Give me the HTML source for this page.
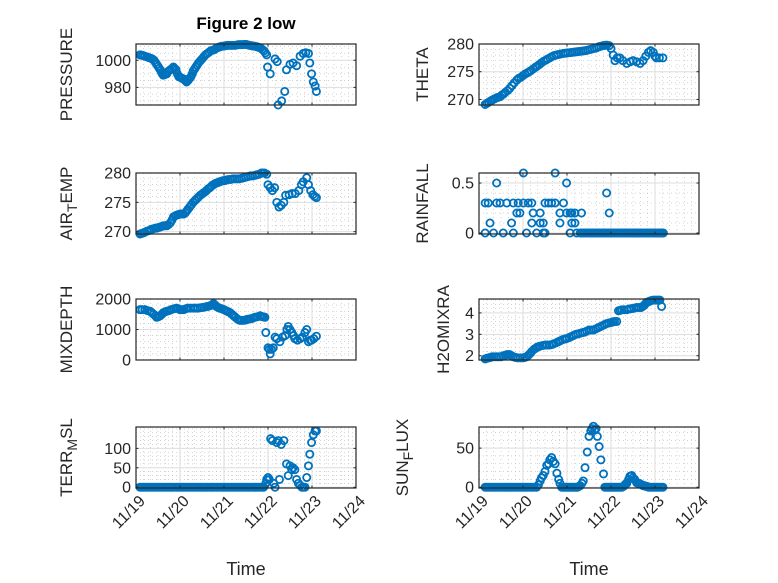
<!DOCTYPE html>
<html><head><meta charset="utf-8"><style>
html,body{margin:0;padding:0;background:#fff;}
svg{display:block;font-family:"Liberation Sans","DejaVu Sans",sans-serif;}
</style></head><body>
<svg id="fig" width="778" height="583" viewBox="0 0 778 583" xmlns="http://www.w3.org/2000/svg">
<rect width="778" height="583" fill="#fff"/>
<text x="246" y="29" text-anchor="middle" font-size="17" font-weight="bold" fill="#000">Figure 2 low</text>
</svg>
<script>
const xTickLabels = ["11/19","11/20","11/21","11/22","11/23","11/24"];
const xTickDays = [0,1,2,3,4,5];

const pressureT = [0.09,0.12,0.16,0.2,0.25,0.29,0.33,0.37,0.41,0.44,0.47,0.5,0.53,0.56,0.58,0.6,0.62,0.66,0.7,0.74,0.78,0.82,0.85,0.88,0.91,0.94,0.97,1.0,1.03,1.06,1.1,1.12,1.15,1.18,1.2,1.23,1.25,1.28,1.3,1.33,1.36,1.39,1.42,1.46,1.5,1.54,1.58,1.62,1.66,1.7,1.75,1.79,1.83,1.87,1.91,1.95,2.0,2.04,2.08,2.12,2.16,2.2,2.25,2.29,2.33,2.37,2.41,2.45,2.5,2.54,2.58,2.62,2.66,2.7,2.75,2.79,2.83,2.87,2.91,2.94,2.97,2.99,3.05,3.16,3.21,3.23,3.31,3.38,3.42,3.5,3.57,3.65,3.73,3.8,3.86,3.92,3.95,3.99,4.03,4.07,4.1];
const pressureV = [1004,1003.8,1003.5,1003,1002.5,1002,1001.5,1001,1000,998.5,997,995.5,994,992.5,991,990,989,989.5,990,992,993,994,995,994,993,990,988,987.5,987,986.5,986,985,984,985,986,987,988,990,992,993.5,995,996.5,998,999.5,1001,1002.5,1004,1005,1006,1007,1007.5,1008,1009,1009.5,1010,1010.3,1010.5,1010.8,1011,1011,1011,1011,1011,1011.3,1011.5,1011.5,1011.5,1011.6,1011.7,1011.4,1011,1010.8,1010.5,1010.3,1010,1009.5,1009,1008,1007,1005.5,1004,995,990,1001,999,967,970,977,993,997,998,996,1003,1005,1005.5,1005,998,990,984,981,977];

const airT = [0.09,0.13,0.17,0.2,0.25,0.3,0.35,0.4,0.44,0.47,0.51,0.55,0.59,0.62,0.66,0.7,0.74,0.78,0.82,0.85,0.89,0.92,0.96,1.0,1.04,1.08,1.12,1.15,1.18,1.22,1.26,1.3,1.34,1.38,1.42,1.46,1.5,1.53,1.57,1.6,1.64,1.68,1.72,1.76,1.8,1.83,1.87,1.9,1.94,1.98,2.02,2.05,2.1,2.15,2.2,2.25,2.3,2.35,2.4,2.45,2.5,2.55,2.6,2.65,2.7,2.75,2.8,2.85,2.88,2.92,2.97,3.0,3.05,3.1,3.15,3.2,3.25,3.3,3.36,3.4,3.48,3.55,3.62,3.7,3.76,3.8,3.88,3.92,3.97,4.02,4.06,4.1];
const airV = [269.6,269.7,269.8,269.9,270.1,270.2,270.4,270.5,270.6,270.6,270.7,270.8,270.9,271,271,271,271.2,271.5,272,272.5,272.7,272.8,272.9,273,273,273,273.2,273.5,273.8,274.2,274.6,275,275.3,275.6,275.9,276.2,276.4,276.6,276.8,277,277.3,277.5,277.8,278,278.2,278.3,278.4,278.5,278.6,278.7,278.7,278.8,278.9,278.9,279,279,279,279,279.1,279.2,279.3,279.4,279.5,279.5,279.6,279.7,279.8,280,280,280,279.8,278,277.5,277,277.5,275,274.2,274.5,275,276.2,276.3,276.5,276.5,277,278,278.5,279.2,278,277,276.3,276,275.8];

const mixT = [0.09,0.14,0.2,0.26,0.32,0.36,0.4,0.44,0.47,0.51,0.55,0.59,0.62,0.66,0.7,0.75,0.8,0.86,0.92,0.96,1.0,1.04,1.08,1.13,1.18,1.24,1.3,1.35,1.4,1.45,1.5,1.55,1.6,1.64,1.68,1.72,1.76,1.8,1.83,1.87,1.9,1.95,2.0,2.04,2.07,2.1,2.14,2.18,2.22,2.26,2.3,2.33,2.36,2.4,2.45,2.49,2.52,2.56,2.6,2.65,2.7,2.76,2.82,2.85,2.88,2.91,2.93,2.95,3.0,3.03,3.05,3.08,3.12,3.16,3.2,3.27,3.33,3.39,3.43,3.46,3.5,3.54,3.58,3.61,3.67,3.73,3.78,3.84,3.88,3.92,3.96,3.99,4.04,4.1];
const mixV = [1650,1650,1650,1620,1600,1550,1500,1450,1400,1420,1450,1500,1550,1580,1600,1620,1650,1680,1700,1680,1650,1650,1650,1680,1700,1700,1700,1700,1700,1710,1720,1730,1750,1760,1780,1800,1850,1800,1750,1720,1700,1680,1650,1620,1600,1580,1550,1500,1450,1400,1350,1320,1300,1300,1300,1310,1330,1340,1350,1370,1400,1420,1450,1430,1420,1410,1400,900,400,350,200,350,400,750,700,600,750,800,1000,1100,1000,900,800,700,650,700,750,900,1000,600,650,650,700,780];

const terrT = [0.09,0.13,0.17,0.21,0.25,0.29,0.33,0.37,0.42,0.46,0.5,0.54,0.58,0.62,0.67,0.71,0.75,0.79,0.83,0.87,0.92,0.96,1.0,1.04,1.08,1.12,1.17,1.21,1.25,1.29,1.33,1.37,1.42,1.46,1.5,1.54,1.58,1.62,1.67,1.71,1.75,1.79,1.83,1.87,1.92,1.96,2.0,2.04,2.08,2.12,2.17,2.21,2.25,2.29,2.33,2.37,2.42,2.46,2.5,2.54,2.58,2.62,2.67,2.71,2.75,2.79,2.83,2.87,2.9,2.95,2.97,3.0,3.03,3.06,3.1,3.13,3.16,3.2,3.23,3.26,3.3,3.36,3.42,3.46,3.5,3.54,3.57,3.61,3.65,3.69,3.73,3.77,3.8,3.84,3.88,3.92,3.95,3.99,4.03,4.07,4.1];
const terrV = [0,0,0,0,0,0,0,0,0,0,0,0,0,0,0,0,0,0,0,0,0,0,0,0,0,0,0,0,0,0,0,0,0,0,0,0,0,0,0,0,0,0,0,0,0,0,0,0,0,0,0,0,0,0,0,0,0,0,0,0,0,0,0,0,0,0,0,0,0,10,20,25,20,125,120,10,0,115,120,20,110,120,60,30,55,45,50,45,20,10,5,0,0,0,25,55,85,115,135,145,145];

const thetaT = [0.14,0.18,0.22,0.26,0.3,0.35,0.4,0.44,0.48,0.52,0.56,0.6,0.65,0.7,0.75,0.8,0.86,0.9,0.95,1.0,1.05,1.1,1.14,1.18,1.23,1.28,1.32,1.37,1.42,1.47,1.52,1.56,1.61,1.65,1.7,1.75,1.8,1.86,1.92,1.97,2.02,2.07,2.12,2.17,2.22,2.27,2.32,2.37,2.42,2.47,2.52,2.57,2.62,2.67,2.72,2.77,2.82,2.86,2.9,2.96,3.0,3.05,3.09,3.14,3.2,3.27,3.36,3.44,3.5,3.58,3.66,3.73,3.79,3.85,3.9,3.96,4.0,4.03,4.1,4.18];
const thetaV = [269.1,269.3,269.5,269.7,269.9,270.1,270.3,270.4,270.5,270.8,271,271.3,271.6,272,272.5,273,273.5,273.8,274,274.3,274.6,274.8,275,275.2,275.5,275.8,276,276.3,276.6,276.9,277.1,277.3,277.5,277.7,277.9,278,278.1,278.2,278.3,278.35,278.4,278.45,278.5,278.55,278.6,278.65,278.7,278.75,278.8,278.9,279,279.1,279.2,279.3,279.5,279.6,279.7,279.75,279.8,279.7,279.2,278,277,277.5,277.5,277,276.5,276.8,277,276.8,276.5,277,277.8,278.5,278.8,278.5,277.8,277.5,277.5,277.5];

const rainT = [0.14,0.14,0.21,0.25,0.33,0.4,0.4,0.48,0.55,0.63,0.74,0.78,0.78,0.86,0.89,0.93,1.01,1.01,1.08,1.12,1.2,1.2,1.23,1.31,1.39,1.39,1.46,1.46,1.5,1.5,1.58,1.65,1.73,1.73,1.84,1.84,1.92,1.99,1.99,2.07,2.07,2.11,2.11,2.18,2.18,2.22,2.33,2.9,2.96,
 2.3,2.34,2.38,2.42,2.46,2.5,2.54,2.58,2.62,2.66,2.7,2.74,2.78,2.82,2.86,2.9,2.94,2.98,3.02,3.06,3.1,3.14,3.18,3.22,3.26,3.3,3.34,3.38,3.42,3.46,3.5,3.54,3.58,3.62,3.66,3.7,3.74,3.78,3.82,3.86,3.9,3.94,3.98,4.02,4.06,4.1,4.13,4.16,4.19];
const rainV = [0.3,0,0.3,0.1,0,0.5,0.3,0.3,0,0.3,0.1,0.3,0,0.2,0.3,0.2,0.6,0.3,0,0.3,0.3,0.1,0.2,0,0.2,0.1,0.1,0,0.3,0,0.3,0.3,0.6,0.3,0.2,0.1,0.3,0.5,0.2,0.2,0,0.1,0.2,0.2,0.1,0,0.2,0.4,0.2,
 0,0,0,0,0,0,0,0,0,0,0,0,0,0,0,0,0,0,0,0,0,0,0,0,0,0,0,0,0,0,0,0,0,0,0,0,0,0,0,0,0,0,0,0,0,0,0,0,0];

const h2oT = [0.14,0.18,0.22,0.26,0.3,0.35,0.4,0.45,0.5,0.55,0.6,0.63,0.67,0.7,0.74,0.78,0.83,0.88,0.94,1.0,1.04,1.08,1.12,1.16,1.2,1.25,1.29,1.32,1.36,1.39,1.45,1.5,1.55,1.6,1.65,1.69,1.75,1.8,1.85,1.9,1.95,1.99,2.05,2.1,2.15,2.2,2.25,2.3,2.35,2.4,2.45,2.5,2.55,2.6,2.65,2.7,2.75,2.8,2.85,2.9,2.95,3.0,3.04,3.08,3.13,3.17,3.21,3.25,3.3,3.36,3.41,3.46,3.52,3.58,3.63,3.68,3.72,3.75,3.78,3.81,3.85,3.88,3.92,3.96,4.0,4.04,4.08,4.11,4.15];
const h2oV = [1.85,1.88,1.9,1.92,1.95,1.95,1.95,1.95,1.95,2.0,2.02,2.05,2.05,2.05,2.0,1.95,1.92,1.9,1.9,1.9,1.92,1.95,2.02,2.1,2.2,2.3,2.35,2.4,2.43,2.45,2.48,2.5,2.5,2.5,2.52,2.55,2.6,2.65,2.7,2.75,2.78,2.8,2.85,2.9,2.95,3.0,3.02,3.05,3.08,3.1,3.15,3.2,3.2,3.2,3.25,3.3,3.35,3.4,3.45,3.5,3.53,3.55,3.58,3.6,3.6,4.1,4.12,4.15,4.15,4.15,4.18,4.2,4.22,4.25,4.25,4.25,4.3,4.35,4.42,4.5,4.52,4.55,4.58,4.6,4.6,4.6,4.6,4.6,4.3];

const sunT = [0.14,0.18,0.22,0.26,0.3,0.34,0.38,0.42,0.46,0.5,0.54,0.58,0.62,0.66,0.7,0.74,0.78,0.82,0.86,0.9,0.94,0.98,1.02,1.06,1.1,1.14,1.18,1.22,1.26,1.31,1.35,1.39,1.42,1.46,1.5,1.54,1.58,1.61,1.65,1.69,1.73,1.77,1.81,1.84,1.88,1.91,1.94,1.97,2.0,2.03,2.06,2.09,2.12,2.15,2.18,2.21,2.24,2.27,2.3,2.34,2.37,2.41,2.46,2.5,2.54,2.57,2.6,2.63,2.66,2.69,2.73,2.77,2.83,2.86,2.89,2.92,2.95,2.98,3.01,3.04,3.07,3.1,3.13,3.16,3.19,3.22,3.25,3.28,3.3,3.33,3.36,3.4,3.43,3.47,3.5,3.54,3.58,3.61,3.64,3.67,3.7,3.73,3.76,3.79,3.82,3.85,3.89,3.92,3.96,3.99,4.03,4.06,4.1,4.14,4.18];
const sunV = [0,0,0,0,0,0,0,0,0,0,0,0,0,0,0,0,0,0,0,0,0,0,0,0,0,0,0,0,0,0,3,8,12,15,20,28,30,35,38,33,30,18,10,5,0,0,0,0,0,0,0,0,0,0,0,0,0,1,2,5,8,25,45,65,72,75,78,73,75,65,52,35,17,0,0,0,0,0,0,0,0,0,0,0,0,0,0,1,2,4,5,10,14,15,12,10,6,5,5,4,3,2,2,1,1,0,0,0,0,0,0,0,0,0,0];

const panels = [
 {name:"pressure", label:["PRESSURE"], x:136, y:44, ylim:[967,1012], yticks:[980,1000], minor:5, t:pressureT, v:pressureV, lx:66},
 {name:"theta", label:["THETA"], x:479, y:44, ylim:[269,280], yticks:[270,275,280], minor:1, t:thetaT, v:thetaV, lx:422},
 {name:"air-temp", label:["AIR","T","EMP"], x:136, y:173, ylim:[269.6,280], yticks:[270,275,280], minor:1, t:airT, v:airV, lx:66},
 {name:"rainfall", label:["RAINFALL"], x:479, y:173, ylim:[-0.01,0.6], yticks:[0,0.5], minor:0.1, t:rainT, v:rainV, lx:422},
 {name:"mixdepth", label:["MIXDEPTH"], x:136, y:299, ylim:[0,2000], yticks:[0,1000,2000], minor:200, t:mixT, v:mixV, lx:66},
 {name:"h2omixra", label:["H2OMIXRA"], x:479, y:299, ylim:[1.8,4.65], yticks:[2,3,4], minor:0.2, t:h2oT, v:h2oV, lx:443},
 {name:"terr-msl", label:["TERR","M","SL"], x:136, y:427, ylim:[-2,155], yticks:[0,50,100], minor:10, t:terrT, v:terrV, lx:66},
 {name:"sun-flux", label:["SUN","F","LUX"], x:479, y:427, ylim:[-1,77], yticks:[0,50], minor:10, t:sunT, v:sunV, lx:402}
];
const W=220, H=61, NS="http://www.w3.org/2000/svg";
const svg=document.getElementById('fig');
function mk(tag,attrs,parent){const e=document.createElementNS(NS,tag);for(const k in attrs)e.setAttribute(k,attrs[k]);(parent||svg).appendChild(e);return e;}
panels.forEach((p,pi)=>{
 const g=mk('g',{});
 
 
 const xs=d=>p.x+d/5*W;
 const ys=v=>p.y+H-(v-p.ylim[0])/(p.ylim[1]-p.ylim[0])*H;
 mk('rect',{x:p.x,y:p.y,width:W,height:H,fill:'#fff'},g);
 for(let d=0; d<=5.0001; d+=1/6){ if(Math.abs(d-Math.round(d))<1e-6) continue;
   mk('line',{x1:xs(d),x2:xs(d),y1:p.y,y2:p.y+H,stroke:'#b8b8b8','stroke-width':0.6,'stroke-dasharray':'1,3'},g);}
 const s0=Math.ceil(p.ylim[0]/p.minor-1e-6);
 for(let k=s0; k*p.minor<=p.ylim[1]+1e-9; k++){const v=k*p.minor;
   if(p.yticks.some(t=>Math.abs(t-v)<1e-9)) continue;
   mk('line',{x1:p.x,x2:p.x+W,y1:ys(v),y2:ys(v),stroke:'#b8b8b8','stroke-width':0.6,'stroke-dasharray':'1,3'},g);}
 xTickDays.forEach(d=>mk('line',{x1:xs(d),x2:xs(d),y1:p.y,y2:p.y+H,stroke:'#dedede','stroke-width':1},g));
 p.yticks.forEach(v=>mk('line',{x1:p.x,x2:p.x+W,y1:ys(v),y2:ys(v),stroke:'#dedede','stroke-width':1},g));
 const dg=mk('g',{fill:'none',stroke:'#0072BD','stroke-width':1.8},g);
 
 
 p.t.forEach((d,i)=>{const c=mk('circle',{cx:xs(d),cy:ys(p.v[i]),r:3.6},dg);
   
   });
 mk('rect',{x:p.x,y:p.y,width:W,height:H,fill:'none',stroke:'#262626','stroke-width':1.2},g);
 xTickDays.forEach(d=>{mk('line',{x1:xs(d),x2:xs(d),y1:p.y+H,y2:p.y+H-2.5,stroke:'#262626','stroke-width':1},g);
   mk('line',{x1:xs(d),x2:xs(d),y1:p.y,y2:p.y+2.5,stroke:'#262626','stroke-width':1},g);});
 p.yticks.forEach(v=>{mk('line',{x1:p.x,x2:p.x+2.5,y1:ys(v),y2:ys(v),stroke:'#262626','stroke-width':1},g);
   mk('line',{x1:p.x+W,x2:p.x+W-2.5,y1:ys(v),y2:ys(v),stroke:'#262626','stroke-width':1},g);
   const tl=mk('text',{x:p.x-5,y:ys(v)+5.5,'text-anchor':'end','font-size':16,fill:'#262626'},g);
   
   
   tl.textContent=String(v);});
 const cy=p.y+H/2;
 const yl=mk('text',{x:0,y:0,'text-anchor':'middle','font-size':17,fill:'#262626',transform:`translate(${p.lx+6},${cy}) rotate(-90)`},g);
 
 
 if(p.label.length===1){yl.textContent=p.label[0];}
 else{const a=mk('tspan',{},yl);a.textContent=p.label[0];
   const b=mk('tspan',{dy:5,'font-size':14},yl);b.textContent=p.label[1];
   const c=mk('tspan',{dy:-5},yl);c.textContent=p.label[2];}
 if(pi>=6){
   xTickDays.forEach((d,i)=>{const t=mk('text',{x:0,y:0,'text-anchor':'end','font-size':16,fill:'#262626',transform:`translate(${xs(d)+10},${p.y+H+14}) rotate(-45)`},g);
     
     
     t.textContent=xTickLabels[i];});
   const xt=mk('text',{x:p.x+W/2,y:575,'text-anchor':'middle','font-size':18,fill:'#262626'},g);
   
   
   xt.textContent='Time';
 }
});
</script>
</body></html>
